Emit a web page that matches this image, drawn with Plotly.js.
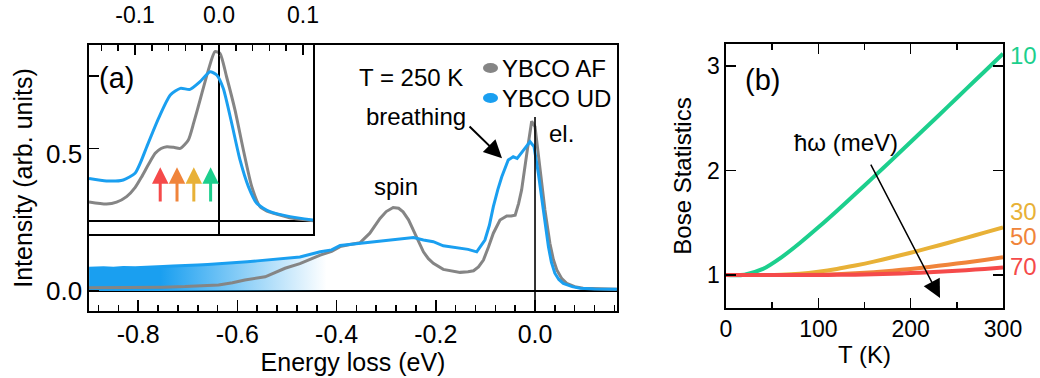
<!DOCTYPE html>
<html><head><meta charset="utf-8">
<script src="https://cdn.plot.ly/plotly-3.0.1.min.js"></script>
<style>html,body{margin:0;padding:0;background:#fff}</style>
</head><body><div id="chart" style="width:1040px;height:378px"></div>
<script>
// ---------- Panel (a): RIXS spectra, T = 250 K ----------
const energyAF = [-0.899,-0.85,-0.80,-0.75,-0.706,-0.66,-0.638,-0.61,-0.585,-0.544,-0.504,-0.474,-0.45,-0.433,-0.41,-0.393,-0.373,-0.353,-0.333,-0.3125,-0.30,-0.286,-0.275,-0.266,-0.255,-0.245,-0.235,-0.225,-0.215,-0.205,-0.185,-0.17,-0.151,-0.135,-0.124,-0.114,-0.104,-0.094,-0.084,-0.0706,-0.057,-0.048,-0.040,-0.033,-0.027,-0.0155,-0.0067,0.0,0.010,0.020,0.030,0.037,0.044,0.054,0.064,0.080,0.097,0.13,0.165];
const intensityAF = [0.012,0.012,0.013,0.014,0.016,0.019,0.022,0.030,0.040,0.052,0.083,0.100,0.118,0.131,0.145,0.162,0.170,0.176,0.211,0.265,0.290,0.305,0.302,0.289,0.260,0.223,0.180,0.143,0.118,0.101,0.079,0.073,0.068,0.070,0.074,0.088,0.113,0.160,0.211,0.259,0.274,0.274,0.277,0.320,0.369,0.515,0.620,0.600,0.454,0.296,0.174,0.115,0.077,0.045,0.028,0.016,0.010,0.007,0.006];
const energyUD = [-0.899,-0.87,-0.85,-0.83,-0.806,-0.78,-0.75,-0.73,-0.706,-0.68,-0.66,-0.64,-0.625,-0.60,-0.58,-0.56,-0.544,-0.52,-0.50,-0.474,-0.433,-0.41,-0.393,-0.373,-0.353,-0.335,-0.319,-0.30,-0.286,-0.265,-0.245,-0.225,-0.205,-0.185,-0.165,-0.151,-0.135,-0.1175,-0.101,-0.092,-0.084,-0.075,-0.067,-0.054,-0.044,-0.036,-0.0235,-0.010,-0.002,0.0067,0.0168,0.027,0.033,0.040,0.048,0.057,0.075,0.091,0.12,0.165];
const intensityUD = [0.083,0.085,0.083,0.086,0.085,0.088,0.089,0.091,0.092,0.095,0.097,0.099,0.101,0.104,0.107,0.110,0.113,0.117,0.121,0.124,0.143,0.150,0.166,0.170,0.173,0.178,0.180,0.184,0.189,0.192,0.195,0.186,0.180,0.165,0.160,0.158,0.152,0.143,0.186,0.240,0.308,0.370,0.417,0.478,0.490,0.484,0.515,0.545,0.527,0.430,0.296,0.162,0.105,0.065,0.042,0.028,0.016,0.010,0.007,0.006];
const energyTicks = [-0.8,-0.6,-0.4,-0.2,0.0];
const energyTickLabels = ['-0.8','-0.6','-0.4','-0.2','0.0'];
const intensityTicks = [0.0,0.5];
const intensityTickLabels = ['0.0','0.5'];

// ---------- Inset: quasi-elastic region ----------
const insetEnergyAF = [-0.1548,-0.134,-0.122,-0.110,-0.100,-0.092,-0.084,-0.076,-0.069,-0.062,-0.054,-0.046,-0.0365,-0.030,-0.0226,-0.0127,-0.0048,0.0012,0.009,0.019,0.029,0.039,0.0488,0.057,0.065,0.088,0.1119];
const insetIntensityAF = [0.131,0.117,0.130,0.168,0.230,0.306,0.390,0.467,0.500,0.512,0.508,0.501,0.559,0.680,0.834,1.041,1.168,1.156,0.995,0.766,0.490,0.237,0.099,0.068,0.053,0.018,0.002];
const insetEnergyUD = [-0.1548,-0.134,-0.114,-0.100,-0.093,-0.086,-0.072,-0.058,-0.046,-0.0345,-0.0226,-0.0107,-0.0027,0.005,0.0151,0.025,0.035,0.0449,0.0607,0.0845,0.1119];
const insetIntensityUD = [0.294,0.276,0.283,0.329,0.410,0.512,0.708,0.869,0.915,0.908,0.961,1.030,1.007,0.915,0.674,0.421,0.237,0.122,0.064,0.030,0.007];
const insetTicks = [-0.1,0.0,0.1];
const insetTickLabels = ['-0.1','0.0','0.1'];

// ---------- Panel (b): Bose statistics ----------
const temperatureK = [0,20,40,60,80,100,120,140,160,180,200,220,240,260,280,300];
const bose10meV = [1.000,1.003,1.058,1.169,1.306,1.456,1.613,1.775,1.939,2.104,2.272,2.440,2.608,2.778,2.947,3.117];
const bose30meV = [1.000,1.000,1.000,1.003,1.013,1.032,1.058,1.091,1.128,1.169,1.213,1.259,1.306,1.355,1.405,1.456];
const bose50meV = [1.000,1.000,1.000,1.000,1.001,1.003,1.008,1.016,1.027,1.041,1.058,1.077,1.098,1.120,1.144,1.169];
const bose70meV = [1.000,1.000,1.000,1.000,1.000,1.000,1.001,1.003,1.006,1.011,1.018,1.026,1.035,1.046,1.058,1.071];
const phononEnergiesMeV = [10,30,50,70];
const phononLabels = ['10','30','50','70'];
const tempTicks = [0,100,200,300];
const boseTicks = [1,2,3];

const colorAF = '#858585';
const colorUD = '#1a9ff0';
const modeColors = ['#1ccf8d','#e8b137','#f0843a','#f54a4a'];
const boseSeries = [bose10meV,bose30meV,bose50meV,bose70meV];

const FONT = 'Liberation Sans, Arial, Helvetica, sans-serif';
const W = 1040, H = 378;
const px = v => v / W;
const py = v => (H - v) / H;

const traces = [];
// gradient fill under UD spectrum
traces.push({x: energyUD, y: intensityUD, type:'scatter', mode:'lines', xaxis:'x', yaxis:'y',
  line:{width:0, color:colorUD}, fill:'tozeroy',
  fillgradient:{type:'horizontal', start:-0.899, stop:-0.42,
    colorscale:[[0,'rgba(26,159,240,1)'],[0.3,'rgba(26,159,240,1)'],[1,'rgba(26,159,240,0)']]},
  hoverinfo:'skip'});
traces.push({x: energyAF, y: intensityAF, type:'scatter', mode:'lines', xaxis:'x', yaxis:'y',
  line:{width:3, color:colorAF}, name:'YBCO AF'});
traces.push({x: energyUD, y: intensityUD, type:'scatter', mode:'lines', xaxis:'x', yaxis:'y',
  line:{width:3, color:colorUD}, name:'YBCO UD'});
// inset
traces.push({x: insetEnergyAF, y: insetIntensityAF, type:'scatter', mode:'lines', xaxis:'x2', yaxis:'y2',
  line:{width:3, color:colorAF, shape:'spline', smoothing:0.6}});
traces.push({x: insetEnergyUD, y: insetIntensityUD, type:'scatter', mode:'lines', xaxis:'x2', yaxis:'y2',
  line:{width:3, color:colorUD, shape:'spline', smoothing:0.6}});
// panel (b)
boseSeries.forEach((s,i) => traces.push({x: temperatureK, y: s, type:'scatter', mode:'lines',
  xaxis:'x3', yaxis:'y3', line:{width:4, color:modeColors[i], shape:'spline', smoothing:0.8},
  name: phononLabels[i]}));

const axisCommon = {showline:true, linecolor:'black', linewidth:1.6, showgrid:false, zeroline:false,
  ticks:'inside', tickcolor:'black', tickwidth:1.6, color:'black'};

const annotations = [];
const ann = (o) => annotations.push(Object.assign({showarrow:false, font:{family:FONT, size:24, color:'black'},
  xanchor:'center', yanchor:'middle'}, o));
ann({xref:'paper', yref:'paper', x:px(116), y:py(78), text:'(a)', font:{family:FONT,size:29,color:'black'}});
ann({xref:'paper', yref:'paper', x:px(411), y:py(77), text:'T = 250 K'});
ann({xref:'paper', yref:'paper', x:px(416), y:py(116), text:'breathing'});
ann({xref:'paper', yref:'paper', x:px(561), y:py(133), text:'el.'});
ann({xref:'paper', yref:'paper', x:px(396), y:py(187), text:'spin'});
ann({xref:'paper', yref:'paper', x:px(500), y:py(68), text:'YBCO AF', xanchor:'left'});
ann({xref:'paper', yref:'paper', x:px(500), y:py(98), text:'YBCO UD', xanchor:'left'});
ann({xref:'paper', yref:'paper', x:px(762), y:py(80), text:'(b)', font:{family:FONT,size:29,color:'black'}});
ann({xref:'paper', yref:'paper', x:px(846), y:py(142), text:'ħω (meV)'});
// arrows
annotations.push({xref:'x', yref:'y', axref:'x', ayref:'y', x:-0.0665, y:0.485, ax:-0.135, ay:0.606,
  showarrow:true, arrowhead:2, arrowsize:1.8, arrowwidth:2, arrowcolor:'black', text:''});
annotations.push({xref:'x3', yref:'y3', axref:'x3', ayref:'y3', x:231.8, y:0.78, ax:156, ay:2.07,
  showarrow:true, arrowhead:2, arrowsize:2.4, arrowwidth:1.5, arrowcolor:'black', text:''});
// inset phonon arrows at -hbar*omega
phononEnergiesMeV.forEach((e,i) => annotations.push({xref:'x2', yref:'y2', axref:'x2', ayref:'y2',
  x:-e/1000, y:0.37, ax:-e/1000, ay:0.124, showarrow:true, arrowhead:2, arrowsize:1.1, arrowwidth:3,
  arrowcolor:modeColors[i], text:''}));
// right labels of panel (b)
const labelY = [3.096, 1.603, 1.364, 1.077];
phononLabels.forEach((t,i) => ann({xref:'paper', yref:'y3', x:px(1008), y:labelY[i], text:t, xanchor:'left',
  font:{family:FONT, size:24, color:modeColors[i]}}));

const shapes = [
  {type:'line', xref:'x', yref:'y', x0:0, x1:0, y0:-0.073, y1:0.635, line:{color:'black', width:1.6}},
  {type:'circle', xref:'paper', yref:'paper', x0:px(483), x1:px(498), y0:py(73), y1:py(63), fillcolor:colorAF, line:{width:0}},
  {type:'circle', xref:'paper', yref:'paper', x0:px(483), x1:px(498), y0:py(103), y1:py(93), fillcolor:colorUD, line:{width:0}}
];

const layout = {
  width:W, height:H, margin:{l:0,r:0,t:0,b:0}, showlegend:false,
  paper_bgcolor:'white', plot_bgcolor:'white',
  font:{family:FONT, size:23, color:'black'},
  xaxis: Object.assign({}, axisCommon, {domain:[px(89), px(617)], range:[-0.8992,0.1653], anchor:'y', mirror:true,
    tickmode:'array', tickvals:energyTicks, ticktext:energyTickLabels, ticklen:11,
    minor:{dtick:0.04, tick0:0, ticks:'inside', ticklen:6, tickwidth:1.6, tickcolor:'black'},
    tickfont:{size:25}, title:{text:'Energy loss (eV)', font:{size:25}, standoff:5}}),
  yaxis: Object.assign({}, axisCommon, {domain:[py(311), py(45)], range:[-0.073,0.898], anchor:'x', mirror:true,
    tickmode:'array', tickvals:intensityTicks, ticktext:intensityTickLabels, ticklen:10,
    zeroline:true, zerolinecolor:'black', zerolinewidth:1.6,
    tickfont:{size:26}, title:{text:'Intensity (arb. units)', font:{size:25}, standoff:6}}),
  xaxis2: Object.assign({}, axisCommon, {domain:[px(89), px(313)], range:[-0.1548,0.1119], anchor:'y2', side:'top', mirror:true,
    tickmode:'array', tickvals:insetTicks, ticktext:insetTickLabels, ticklen:10,
    minor:{dtick:0.02, tick0:0, ticks:'inside', ticklen:6, tickwidth:1.6, tickcolor:'black'},
    zeroline:true, zerolinecolor:'black', zerolinewidth:1.6,
    tickfont:{size:23}, ticklabelstandoff:11}),
  yaxis2: Object.assign({}, axisCommon, {domain:[py(234), py(45)], range:[-0.0897,1.214], anchor:'x2', mirror:true,
    tickmode:'array', tickvals:[0,0.5,1], showticklabels:false, ticklen:10,
    zeroline:true, zerolinecolor:'black', zerolinewidth:1.6}),
  xaxis3: Object.assign({}, axisCommon, {domain:[px(726), px(1003)], range:[0,300], anchor:'y3', mirror:'allticks',
    tickmode:'array', tickvals:tempTicks, ticklen:10,
    minor:{dtick:50, tick0:0, ticks:'inside', ticklen:6, tickwidth:1.6, tickcolor:'black'},
    tickfont:{size:23}, title:{text:'T (K)', font:{size:24}, standoff:5}}),
  yaxis3: Object.assign({}, axisCommon, {domain:[py(308), py(44)], range:[0.684,3.21], anchor:'x3', mirror:'allticks',
    tickmode:'array', tickvals:boseTicks, ticklen:10,
    tickfont:{size:23}, title:{text:'Bose Statistics', font:{size:24}, standoff:8}}),
  annotations, shapes
};

Plotly.newPlot('chart', traces, layout, {staticPlot:true, displayModeBar:false});
</script>
</body></html>
